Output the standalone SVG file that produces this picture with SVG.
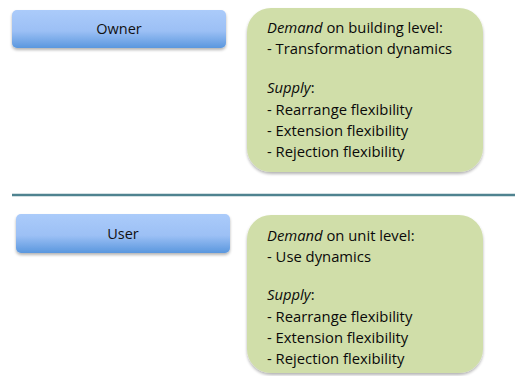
<svg xmlns="http://www.w3.org/2000/svg" width="515" height="376" viewBox="0 0 515 376">
<defs>
<linearGradient id="btn" x1="0" y1="0" x2="0" y2="1">
<stop offset="0" stop-color="#abcbfa"/>
<stop offset="0.55" stop-color="#9cc0f5"/>
<stop offset="1" stop-color="#5a97de"/>
</linearGradient>
<filter id="sh" x="-10%" y="-10%" width="120%" height="130%">
<feGaussianBlur in="SourceAlpha" stdDeviation="1.5"/>
<feOffset dy="2"/>
<feComponentTransfer><feFuncA type="linear" slope="0.3"/></feComponentTransfer>
<feMerge><feMergeNode/><feMergeNode in="SourceGraphic"/></feMerge>
</filter>
</defs>
<style>
.btn{fill:url(#btn);filter:url(#sh)}
.box{fill:#d0dea9;filter:url(#sh)}
.lbl{font-family:"Open Sans","Liberation Sans",sans-serif;font-size:14.5px;fill:#111;text-anchor:middle}
.t{font-family:"Open Sans","Liberation Sans",sans-serif;font-size:14.8px;fill:#0a0a0a}
.sep{stroke:#4f8390;stroke-width:2.5}
</style>
<rect width="515" height="376" fill="#fff"/>
<g id="owner">
<rect class="btn" x="12" y="10" width="214" height="38" rx="5"/>
<text class="lbl" x="119" y="34">Owner</text>
</g>
<g id="owner-box">
<rect class="box" x="247" y="8" width="236" height="164" rx="24"/>
<text class="t" x="267" y="33"><tspan font-style="italic">Demand</tspan> on building level:</text>
<text class="t" x="267" y="54">- Transformation dynamics</text>
<text class="t" x="267" y="93"><tspan font-style="italic">Supply</tspan>:</text>
<text class="t" x="267" y="115">- Rearrange flexibility</text>
<text class="t" x="267" y="136">- Extension flexibility</text>
<text class="t" x="267" y="157">- Rejection flexibility</text>
</g>
<g id="connectors">
<line class="sep" x1="12" y1="195" x2="515" y2="195"/>
</g>
<g id="user">
<rect class="btn" x="16" y="214" width="214" height="39" rx="5"/>
<text class="lbl" x="123" y="239">User</text>
</g>
<g id="user-box">
<rect class="box" x="247" y="215" width="236" height="158" rx="24"/>
<text class="t" x="267" y="241"><tspan font-style="italic">Demand</tspan> on unit level:</text>
<text class="t" x="267" y="262">- Use dynamics</text>
<text class="t" x="267" y="300"><tspan font-style="italic">Supply</tspan>:</text>
<text class="t" x="267" y="322">- Rearrange flexibility</text>
<text class="t" x="267" y="343">- Extension flexibility</text>
<text class="t" x="267" y="364">- Rejection flexibility</text>
</g>
</svg>
